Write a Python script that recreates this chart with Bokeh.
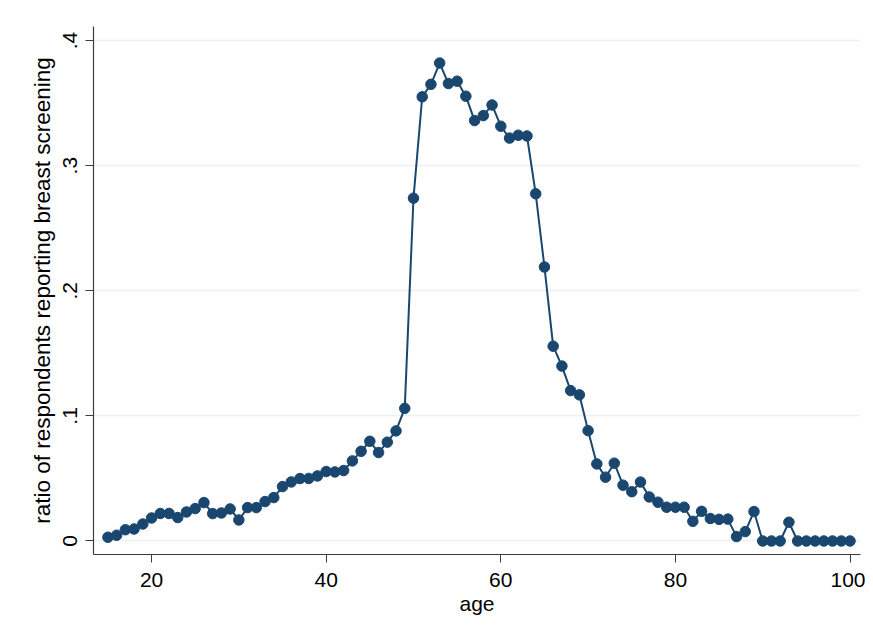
from bokeh.plotting import figure
from bokeh.models import ColumnDataSource, FixedTicker, CustomJSTickFormatter, Range1d
from bokeh.embed import file_html
from bokeh.resources import INLINE

ages = list(range(15, 101))
ratio = [
    0.003, 0.0046, 0.009, 0.0096, 0.0136, 0.0184, 0.022, 0.022, 0.0187, 0.0232,
    0.0259, 0.0307, 0.0219, 0.0224, 0.0256, 0.0168, 0.0267, 0.0267, 0.0315, 0.0347,
    0.0435, 0.0472, 0.0499, 0.050, 0.052, 0.0555, 0.0552, 0.0563, 0.064, 0.0717,
    0.0797, 0.0707, 0.079, 0.088, 0.106, 0.274, 0.355, 0.365, 0.382, 0.3656,
    0.3675, 0.3555, 0.336, 0.340, 0.3485, 0.3315, 0.322, 0.3243, 0.3237, 0.2775,
    0.219, 0.1557, 0.1398, 0.1202, 0.1168, 0.0882, 0.0616, 0.051, 0.0622, 0.0446,
    0.0394, 0.0471, 0.0352, 0.031, 0.027, 0.027, 0.027, 0.0157, 0.0237, 0.018,
    0.0173, 0.0175, 0.0035, 0.0075, 0.0235, 0.0, 0.0, 0.0, 0.015, 0.0,
    0.0, 0.0, 0.0, 0.0, 0.0, 0.0,
]
x_ticks = [20, 40, 60, 80, 100]
y_ticks = [0, 0.1, 0.2, 0.3, 0.4]

src = ColumnDataSource(dict(age=ages, ratio=ratio))

FONT = "Liberation Sans"
NAVY = "#1a476f"

p = figure(width=865, height=630, output_backend="svg", toolbar_location=None,
           x_range=Range1d(13.35, 101.2), y_range=Range1d(-0.0108, 0.4112),
           min_border_left=93, min_border_right=5, min_border_top=26, min_border_bottom=76)
p.outline_line_color = None
p.background_fill_color = "white"
p.border_fill_color = "white"

p.line("age", "ratio", source=src, line_color=NAVY, line_width=2)
p.scatter("age", "ratio", source=src, size=10.5, fill_color=NAVY, line_color=NAVY)

p.xgrid.grid_line_color = None
p.ygrid.grid_line_color = "#eaf2f3"
p.ygrid.grid_line_width = 1.5

p.xaxis.ticker = FixedTicker(ticks=x_ticks)
p.yaxis.ticker = FixedTicker(ticks=y_ticks)
p.yaxis.formatter = CustomJSTickFormatter(
    code="return tick == 0 ? '0' : '.' + Math.round(tick * 10);")
p.yaxis.major_label_orientation = "vertical"

for ax in (p.xaxis, p.yaxis):
    ax.axis_line_color = "#3c3c3c"
    ax.axis_line_width = 1.2
    ax.major_tick_line_color = "#3c3c3c"
    ax.major_tick_out = 8
    ax.major_tick_in = 0
    ax.minor_tick_line_color = None
    ax.major_label_text_font = FONT
    ax.major_label_text_font_size = "21px"
    ax.major_label_text_color = "black"
    ax.axis_label_text_font = FONT
    ax.axis_label_text_font_size = "21px"
    ax.axis_label_text_font_style = "normal"
    ax.axis_label_text_color = "black"

p.xaxis.axis_label = "age"
p.yaxis.axis_label = "ratio of respondents reporting breast screening"
p.yaxis.axis_label_text_font_size = "22.5px"
p.xaxis.major_label_standoff = 10
p.xaxis.axis_label_standoff = 2
p.yaxis.major_label_standoff = 8
p.yaxis.axis_label_standoff = 6

open("out.html", "w").write(file_html(p, INLINE))
